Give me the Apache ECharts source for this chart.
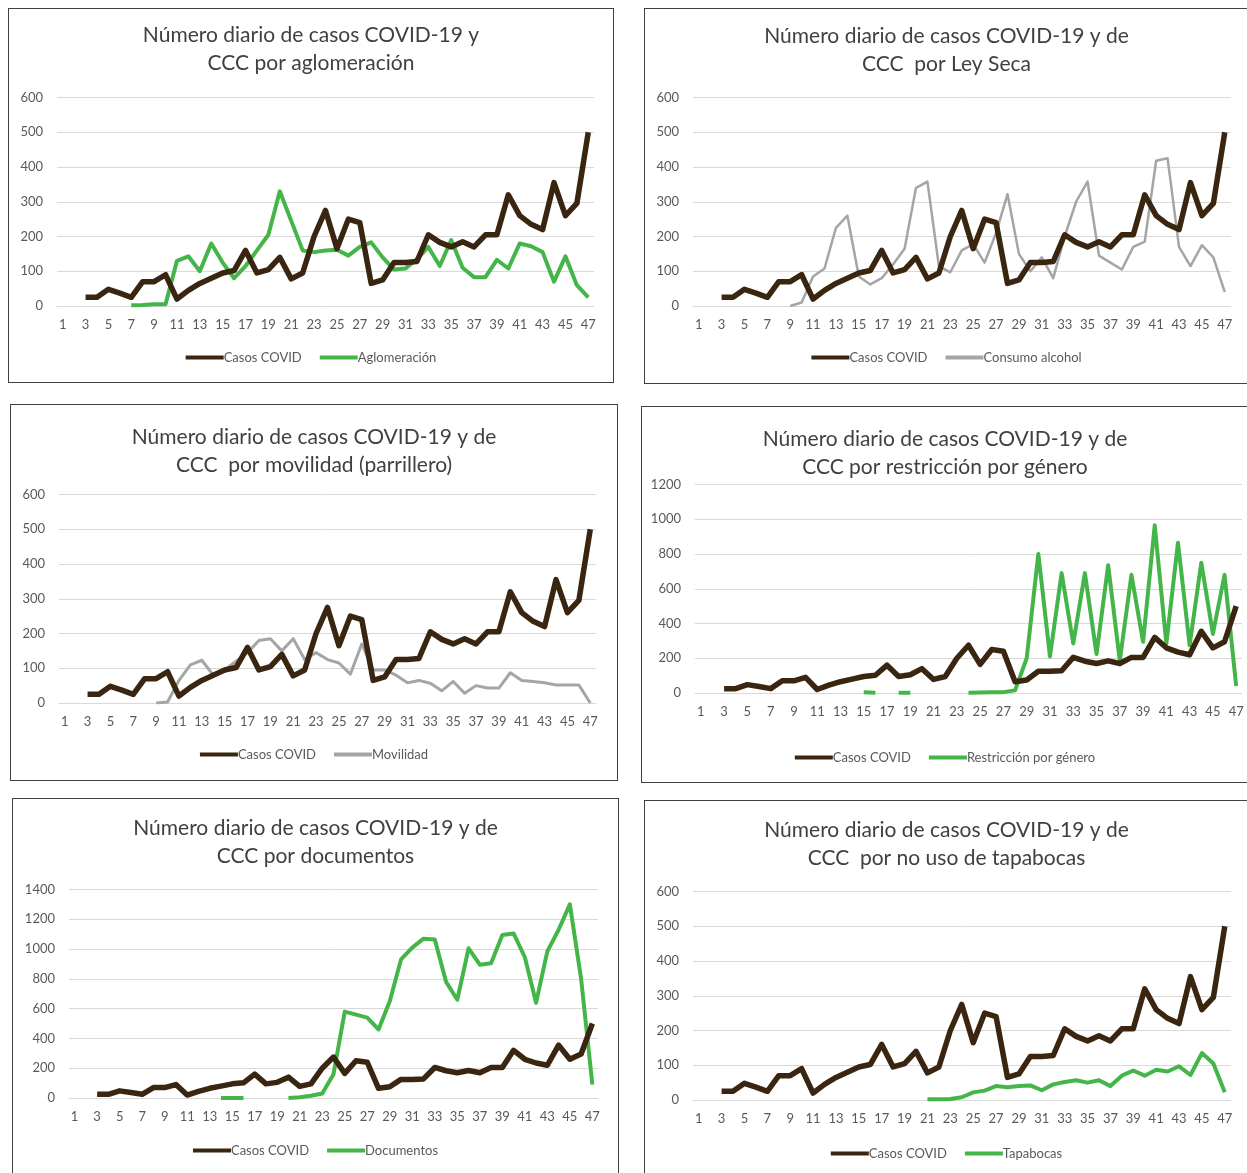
<!DOCTYPE html>
<html><head><meta charset="utf-8">
<script src="https://cdn.jsdelivr.net/npm/echarts@6/dist/echarts.min.js"></script>
<style>
html,body{margin:0;padding:0;background:#fff;width:1247px;height:1173px;overflow:hidden;}
.p{position:absolute;box-sizing:border-box;border:1.5px solid #404040;background:#fff;}
</style></head><body>
<div id="c1" class="p" style="left:8px;top:8px;width:606px;height:375px;"></div>
<div id="c2" class="p" style="left:644px;top:8px;width:605px;height:376px;"></div>
<div id="c3" class="p" style="left:10px;top:404px;width:608px;height:377px;"></div>
<div id="c4" class="p" style="left:641px;top:406px;width:608px;height:377px;"></div>
<div id="c5" class="p" style="left:12px;top:798px;width:607px;height:380px;"></div>
<div id="c6" class="p" style="left:644px;top:800px;width:605px;height:380px;"></div>
<script>
const days = [];
for (let i = 1; i <= 47; i++) days.push(String(i));

const casosCovid = [null,null,25,25,48,37,25,70,70,90,20,45,65,80,95,102,160,95,105,140,78,95,200,275,165,250,240,65,75,125,125,128,205,183,170,185,170,205,205,320,260,235,220,355,260,295,500];

const aglomeracion = [null,null,null,null,null,null,2,3,5,5,130,143,100,180,125,80,115,160,205,330,245,160,155,160,162,145,170,183,140,105,108,135,170,115,190,110,83,83,133,108,180,172,155,70,143,60,25];

const consumoAlcohol = [null,null,null,null,null,null,null,null,0,10,85,108,225,260,85,62,80,120,165,340,358,115,97,160,178,125,210,322,150,100,140,80,200,300,358,145,125,105,170,185,418,425,170,115,175,140,40];

const movilidad = [null,null,null,null,null,null,null,null,0,3,65,110,123,80,95,120,145,180,185,150,185,125,145,125,115,83,170,95,95,80,58,65,57,35,62,28,50,43,43,87,65,62,58,52,52,52,0];

const restriccionGenero = [null,null,null,null,null,null,null,null,null,null,null,null,null,null,5,2,null,2,2,null,null,null,null,2,3,5,5,15,200,800,210,690,285,690,225,735,185,680,295,965,285,865,275,750,340,680,40];

const documentos = [null,null,null,null,null,null,null,null,null,null,null,null,null,0,0,0,null,null,null,0,5,15,30,160,580,560,540,460,650,930,1010,1070,1065,780,660,1005,895,905,1095,1105,945,640,985,1130,1300,800,90];

const tapabocas = [null,null,null,null,null,null,null,null,null,null,null,null,null,null,null,null,null,null,null,null,2,2,3,8,22,27,40,37,40,42,28,45,52,57,50,57,40,70,85,70,87,82,97,72,135,105,22];

const FONT = 'Lato, "Open Sans", sans-serif';
const BROWN = '#3a2510';
const GREEN = '#44b649';
const GRAY = '#a5a5a5';

function make(id, title, ymax, yint, name2, data2, color2, w2, grid, titleTop, legendTop) {
  const chart = echarts.init(document.getElementById(id), null, {renderer:'canvas'});
  chart.setOption({
    animation:false,
    textStyle:{fontFamily:FONT},
    title:{text:title,left:'center',top:titleTop,
      textStyle:{fontFamily:FONT,fontSize:21,fontWeight:'normal',color:'#404040',lineHeight:28}},
    legend:{top:legendTop,left:'center',icon:'rect',itemWidth:38,itemHeight:4,itemGap:18,
      textStyle:{fontFamily:FONT,fontSize:13,color:'#595959',padding:[0,0,0,-5]},
      data:['Casos COVID',name2]},
    grid:grid,
    xAxis:{type:'category',data:days,boundaryGap:true,
      axisLine:{lineStyle:{color:'#d9d9d9',width:1}},axisTick:{show:false},
      axisLabel:{interval:1,color:'#595959',fontSize:13,fontFamily:FONT,margin:12}},
    yAxis:{type:'value',min:0,max:ymax,interval:yint,
      axisLine:{show:false},axisTick:{show:false},
      axisLabel:{color:'#595959',fontSize:13,fontFamily:FONT,margin:14,formatter:function(v){return String(v);}},
      splitLine:{lineStyle:{color:'#d9d9d9',width:1}}},
    series:[
      {name:'Casos COVID',type:'line',data:casosCovid,showSymbol:false,symbol:'none',
        lineStyle:{color:BROWN,width:5.5,join:'round'},itemStyle:{color:BROWN},z:3},
      {name:name2,type:'line',data:data2,showSymbol:false,symbol:'none',
        lineStyle:{color:color2,width:w2,join:'round'},itemStyle:{color:color2},z:2}
    ]
  });
}

make('c1','Número diario de casos COVID-19 y\nCCC por aglomeración',600,100,'Aglomeración',aglomeracion,GREEN,4,
  {left:48,top:88.5,width:537,height:208.5},7,337);
make('c2','Número diario de casos COVID-19 y de\nCCC  por Ley Seca',600,100,'Consumo alcohol',consumoAlcohol,GRAY,2.5,
  {left:48,top:88.5,width:537.5,height:208.5},8,337);
make('c3','Número diario de casos COVID-19 y de\nCCC  por movilidad (parrillero)',600,100,'Movilidad',movilidad,GRAY,3,
  {left:48,top:89.5,width:537,height:208.5},13,338);
make('c4','Número diario de casos COVID-19 y de\nCCC por restricción por género',1200,200,'Restricción por género',restriccionGenero,GREEN,4,
  {left:53,top:77.5,width:547,height:208.5},13,339);
make('c5','Número diario de casos COVID-19 y de\nCCC por documentos',1400,200,'Documentos',documentos,GREEN,4,
  {left:56,top:90.5,width:529,height:208.5},10,340);
make('c6','Número diario de casos COVID-19 y de\nCCC  por no uso de tapabocas',600,100,'Tapabocas',tapabocas,GREEN,4,
  {left:48,top:90.5,width:537.5,height:208.5},10,341);
</script>
</body></html>
